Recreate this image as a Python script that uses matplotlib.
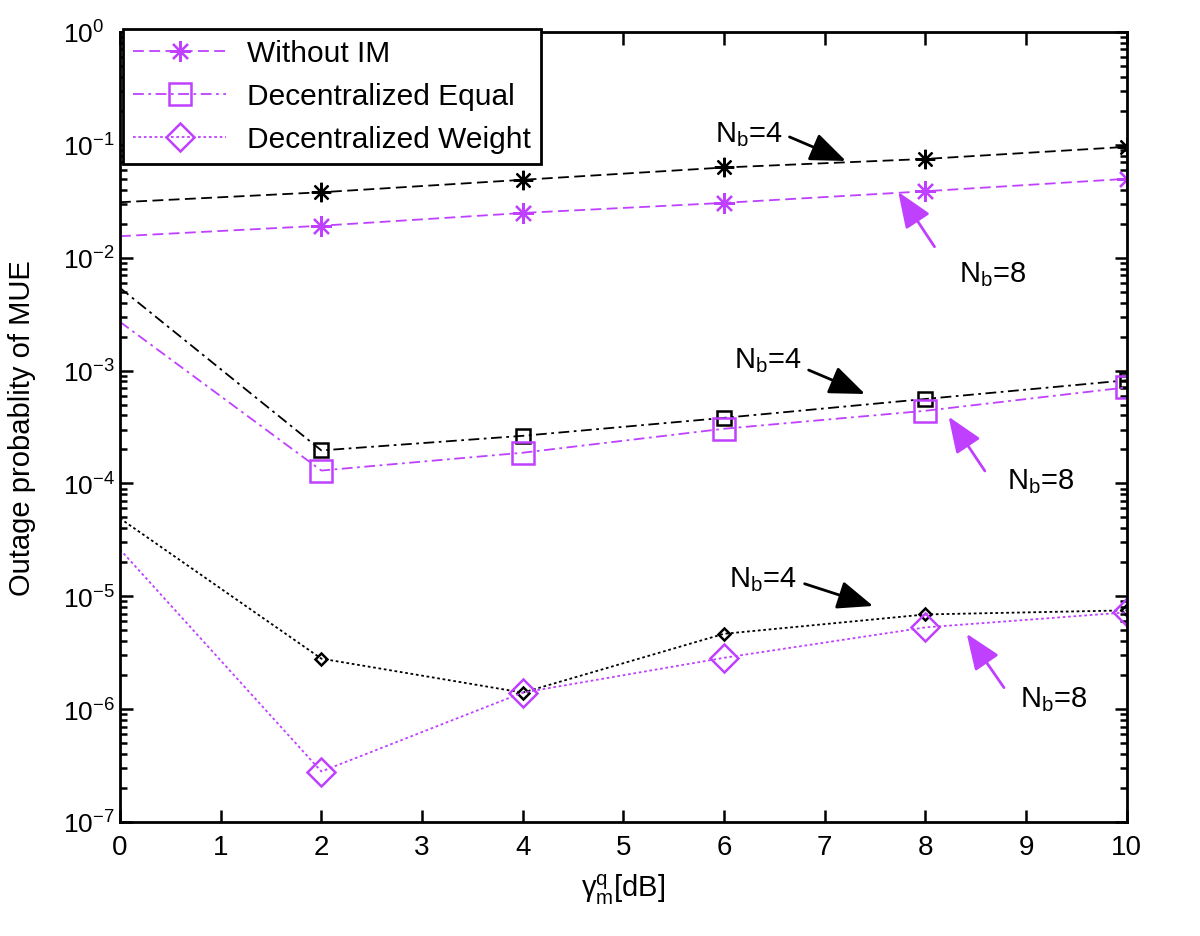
import numpy as np
import matplotlib.pyplot as plt
from matplotlib.lines import Line2D
from matplotlib.ticker import LogLocator, NullFormatter

plt.rcParams['font.family'] = ['Liberation Sans', 'DejaVu Sans']
plt.rcParams['mathtext.fontset'] = 'custom'
plt.rcParams['mathtext.rm'] = 'Liberation Sans'
plt.rcParams['mathtext.it'] = 'Liberation Sans:italic'
plt.rcParams['mathtext.default'] = 'regular'
plt.rcParams['axes.unicode_minus'] = False

# data
snr_db = [0, 2, 4, 6, 8, 10]
noim_nb4 = [0.031, 0.038, 0.049, 0.063, 0.075, 0.096]
noim_nb8 = [0.0155, 0.0192, 0.0249, 0.0306, 0.0388, 0.050]
equal_nb4 = [5.4e-3, 1.96e-4, 2.64e-4, 3.81e-4, 5.6e-4, 8.2e-4]
equal_nb8 = [2.7e-3, 1.3e-4, 1.87e-4, 3.05e-4, 4.4e-4, 7.1e-4]
weight_nb4 = [4.9e-5, 2.8e-6, 1.4e-6, 4.65e-6, 6.9e-6, 7.5e-6]
weight_nb8 = [2.6e-5, 2.8e-7, 1.4e-6, 2.85e-6, 5.3e-6, 7.2e-6]

legend_labels = ['Without IM', 'Decentralized Equal', 'Decentralized Weight']

purple = '#BF40FF'
star = (8, 2, 0)
dash = (0, (6, 3))
dashdot = (0, (6, 2.5, 1.5, 2.5))
dot = (0, (1.5, 1.5))

fig = plt.figure(figsize=(12, 9.37), dpi=100)
ax = fig.add_axes([0.1, 0.1217, 0.839, 0.8431])

mk = slice(1, None)
ax.plot(snr_db, noim_nb4, color='k', ls=dash, lw=1.3, marker=star, ms=14, mew=1.6, markevery=mk)
ax.plot(snr_db, noim_nb8, color=purple, ls=dash, lw=1.3, marker=star, ms=15, mew=1.6, markevery=mk)
ax.plot(snr_db, equal_nb4, color='k', ls=dashdot, lw=1.3, marker='s', ms=10, mew=1.8, mfc='none', markevery=mk)
ax.plot(snr_db, equal_nb8, color=purple, ls=dashdot, lw=1.3, marker='s', ms=16, mew=1.8, mfc='none', markevery=mk)
ax.plot(snr_db, weight_nb4, color='k', ls=dot, lw=1.3, marker='D', ms=6.5, mew=1.8, mfc='none', markevery=mk)
ax.plot(snr_db, weight_nb8, color=purple, ls=dot, lw=1.3, marker='D', ms=14, mew=1.8, mfc='none', markevery=mk)

ax.set_yscale('log')
ax.set_xlim(0, 10)
ax.set_ylim(1e-7, 1)
ax.set_xticks(range(0, 11))
ax.set_yticks([10.0 ** k for k in range(-7, 1)])
ax.yaxis.set_minor_locator(LogLocator(base=10, subs=np.arange(2, 10), numticks=20))
ax.yaxis.set_minor_formatter(NullFormatter())

for s in ax.spines.values():
    s.set_linewidth(2.0)
ax.tick_params(which='both', direction='in', top=True, right=True, width=1.8)
ax.tick_params(which='major', length=9)
ax.tick_params(which='minor', length=5)
ax.tick_params(axis='x', labelsize=20, pad=9)
ax.tick_params(axis='y', labelsize=19, pad=41)
for lab in ax.get_yticklabels():
    lab.set_horizontalalignment('left')

ax.set_xlabel(r'$\gamma_m^q$[dB]', fontsize=21, labelpad=8)
ax.set_ylabel('Outage probablity of MUE', fontsize=21)
ax.yaxis.set_label_coords(-0.083, 0.5)

handles = [
    Line2D([], [], color=purple, ls=dash, lw=1.3, marker=star, ms=15, mew=1.6),
    Line2D([], [], color=purple, ls=dashdot, lw=1.3, marker='s', ms=16, mew=1.8, mfc='none'),
    Line2D([], [], color=purple, ls=dot, lw=1.3, marker='D', ms=14, mew=1.8, mfc='none'),
]
leg = ax.legend(handles, legend_labels, loc='upper left', bbox_to_anchor=(0.003, 1.004),
                borderaxespad=0, fontsize=21.5, fancybox=False, framealpha=1,
                edgecolor='k', handlelength=3.1, labelspacing=0.5, handletextpad=0.7,
                borderpad=0.35)
leg.get_frame().set_linewidth(2.0)

# annotations: (text x, text y, tail x, tail y, tip x, tip y, label, colour)
notes = [
    (6.25, 0.127, 6.65, 0.1175, 7.21, 0.072, '4', 'k'),
    (8.67, 7.2e-3, 8.09, 0.0125, 7.73, 0.0383, '8', purple),
    (6.43, 1.24e-3, 6.84, 1.01e-3, 7.40, 6.2e-4, '4', 'k'),
    (9.14, 1.05e-4, 8.59, 1.29e-4, 8.23, 3.9e-4, '8', purple),
    (6.385, 1.43e-5, 6.80, 1.29e-5, 7.48, 8.2e-6, '4', 'k'),
    (9.27, 1.24e-6, 8.78, 1.55e-6, 8.41, 4.65e-6, '8', purple),
]
for tx, ty, ax0, ay0, ax1, ay1, nb, c in notes:
    ax.text(tx, ty, r'N$_{b}$=' + nb, fontsize=21, ha='center', va='center')
    ax.annotate('', xy=(ax1, ay1), xytext=(ax0, ay0),
                arrowprops=dict(arrowstyle='-|>,head_length=1.0,head_width=0.4',
                                color=c, lw=2, mutation_scale=22, shrinkA=0, shrinkB=0))

fig.savefig('out.png', dpi=100)
